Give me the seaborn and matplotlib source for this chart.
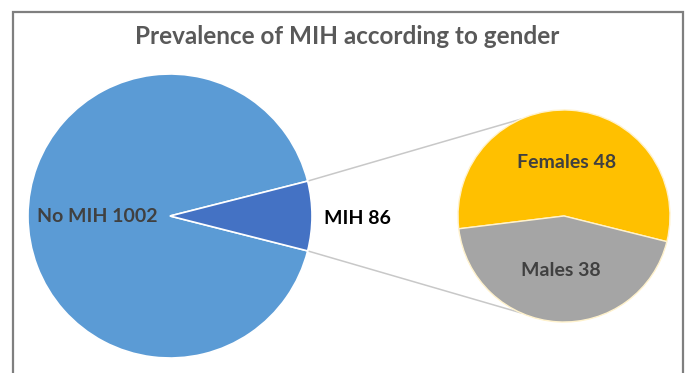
import numpy as np
import matplotlib
matplotlib.use("Agg")
import matplotlib.pyplot as plt
import seaborn as sns

# Data
outer_labels = ["No MIH", "MIH"]
outer_values = [1002, 86]
gender_labels = ["Females", "Males"]
gender_values = [48, 38]

outer_colors = ["#5B9BD5", "#4472C4"]
gender_colors = ["#FFC000", "#A5A5A5"]

sns.set_theme(style="white")
plt.rcParams["font.family"] = ["Lato", "DejaVu Sans"]

W, H = 688, 373
fig = plt.figure(figsize=(W / 100, H / 100), dpi=100)
ax = fig.add_axes([0, 0, 1, 1])

# Main pie
c1, r1 = (170, 216), 142
total = sum(outer_values)
half = 180 * outer_values[1] / total
ax.pie(outer_values, colors=outer_colors, startangle=half, center=c1, radius=r1,
       counterclock=True, wedgeprops=dict(edgecolor="white", linewidth=1.2),
       frame=True)

# Secondary pie (gender split of MIH); y axis is inverted below, so the
# wedges run clockwise in data space to put Females on top
c2, r2 = (564, 216), 106
ax.pie(gender_values, colors=gender_colors, startangle=14, center=c2, radius=r2,
       counterclock=False, wedgeprops=dict(edgecolor="#FFF2CC", linewidth=1.0),
       frame=True)

ax.set_xlim(0, W)
ax.set_ylim(H, 0)
ax.set_aspect("equal")
ax.axis("off")

# Chart frame
ax.plot([12.5, 12.5, 683, 683], [H, 12, 12, H], color="#7F7F7F", lw=1.6,
        solid_joinstyle="miter", zorder=1)

# Connector lines
def pt(c, r, deg):
    a = np.deg2rad(deg)
    return c[0] + r * np.cos(a), c[1] - r * np.sin(a)

p_top = pt(c1, r1, half)
p_bot = pt(c1, r1, -half)
q_top = pt(c2, r2, 114)
q_bot = pt(c2, r2, 246)
for p, q in ((p_top, q_top), (p_bot, q_bot)):
    ax.plot([p[0], q[0]], [p[1], q[1]], color="#C8C8C8", lw=1.1, zorder=0.5)

# Labels
lab = dict(ha="center", va="center", fontsize=14, fontweight="bold")
ax.text(97, 217, f"{outer_labels[0]} {outer_values[0]}", color="#404040", **lab)
ax.text(357, 218, f"{outer_labels[1]} {outer_values[1]}", color="#000000", **lab)
ax.text(567, 163, f"{gender_labels[0]} {gender_values[0]}", color="#404040", **lab)
ax.text(561, 271, f"{gender_labels[1]} {gender_values[1]}", color="#404040", **lab)

ax.text(347, 36, "Prevalence of MIH according to gender", ha="center", va="center",
        fontsize=17.5, fontweight="bold", color="#595959")

fig.savefig("out.png", dpi=100, facecolor="white")
